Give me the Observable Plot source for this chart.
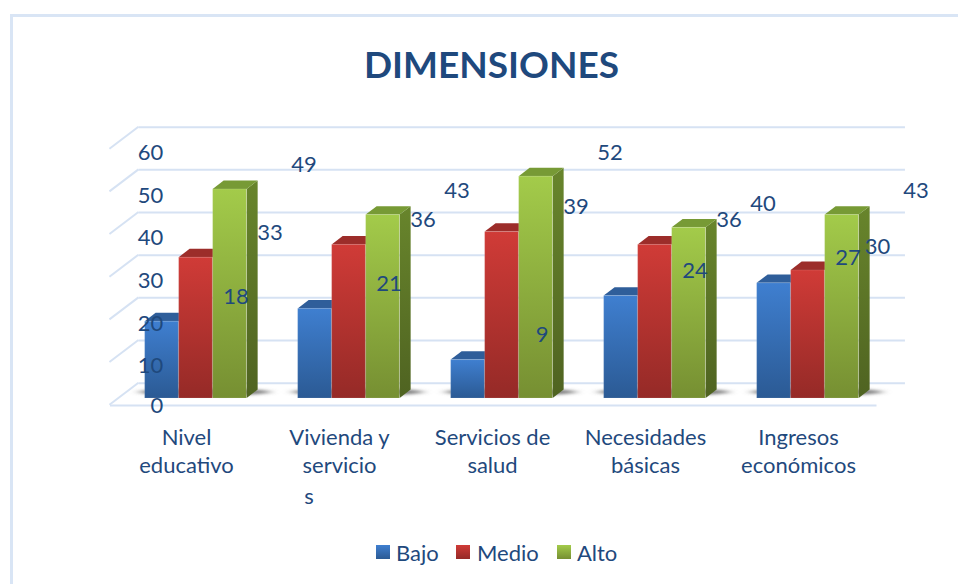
<!DOCTYPE html>
<html>
<head>
<meta charset="utf-8">
<script src="https://cdn.jsdelivr.net/npm/d3@7"></script>
<script src="https://cdn.jsdelivr.net/npm/@observablehq/plot@0.6"></script>
<style>
html,body{margin:0;padding:0;background:#fff;width:958px;height:584px;overflow:hidden;font-family:Lato,sans-serif;color:#1f497d}
#frame{position:absolute;left:10px;top:14px;width:960px;height:600px;border:3px solid #d9e5f5;box-sizing:border-box}
#title{position:absolute;left:0;width:983px;top:38px;text-align:center;font:bold 37px/52px Lato,sans-serif;color:#1f497d}
#chart{position:absolute;left:0;top:110px}
#legend{position:absolute;top:538px;left:376px;height:30px;font:22px/30px Lato,sans-serif}
#legend span{position:absolute;top:0;white-space:nowrap}
#legend i{position:absolute;top:7px;width:14px;height:14px}
</style>
</head>
<body>
<div id="frame"></div>
<div id="title">DIMENSIONES</div>
<div id="chart"></div>
<div id="legend"></div>
<script>
const categories = ["Nivel\neducativo", "Vivienda y\nservicio\ns", "Servicios de\nsalud", "Necesidades\nbásicas", "Ingresos\neconómicos"];
const seriesNames = ["Bajo", "Medio", "Alto"];
const bajo = [18, 21, 9, 24, 27];
const medio = [33, 36, 39, 36, 30];
const alto = [49, 43, 52, 40, 43];
const yTicks = [0, 10, 20, 30, 40, 50, 60];

const ink = "#1f497d";
const gridColor = "#d6e2f3";
const fontFamily = "Lato, sans-serif";
const palette = {
  Bajo: {id: "gBajo", hi: "#3f7fd0", lo: "#2b5a94", top: "#2f5e9a", side: ["#2f5e9a", "#244a78"]},
  Medio: {id: "gMedio", hi: "#d03b37", lo: "#952a27", top: "#9c2d2a", side: ["#9c2d2a", "#7a2220"]},
  Alto: {id: "gAlto", hi: "#a3cb4a", lo: "#768f32", top: "#779a35", side: ["#68852c", "#4f6321"]}
};
const barW = 34, depthX = 11, depthY = 8.4, band = 153.3;
const wallX = 29, wallY = 22;
const backX = 20.1, backY = 15.3;

const table = s => categories.map((c, i) => ({c, v: {Bajo: bajo, Medio: medio, Alto: alto}[s][i]}));
const NS = "http://www.w3.org/2000/svg";
const el = (name, attrs) => {
  const n = document.createElementNS(NS, name);
  for (const k in attrs) n.setAttribute(k, attrs[k]);
  return n;
};

function defsMark() {
  const d = el("defs", {});
  for (const s of seriesNames) {
    const p = palette[s];
    const g = el("linearGradient", {id: p.id, x1: 0, y1: 0, x2: 0, y2: 1});
    g.append(el("stop", {offset: "0%", "stop-color": p.hi}), el("stop", {offset: "100%", "stop-color": p.lo}));
    d.append(g);
    const h = el("linearGradient", {id: p.id + "Side", x1: 0, y1: 0, x2: 0, y2: 1});
    h.append(el("stop", {offset: "0%", "stop-color": p.side[0]}), el("stop", {offset: "100%", "stop-color": p.side[1]}));
    d.append(h);
  }
  const f = el("filter", {id: "soft", x: "-20%", y: "-200%", width: "140%", height: "500%"});
  f.append(el("feGaussianBlur", {stdDeviation: "5 1.6"}));
  d.append(f);
  return d;
}

// Walls and floor edges that follow the y scale
function wallMark(index, scales, values, dims) {
  const g = el("g", {stroke: gridColor, "stroke-width": 2, fill: "none"});
  const x0 = dims.marginLeft;
  for (const t of yTicks) {
    const y = scales.y(t);
    g.append(el("line", {x1: x0 + backX, y1: y - backY, x2: x0 + backX - wallX, y2: y - backY + wallY}));
  }
  return g;
}

// Soft ground shadow under each group of bars
function shadowMark(index, scales) {
  const g = el("g", {fill: "#666", "fill-opacity": 0.85, filter: "url(#soft)"});
  for (const c of categories) {
    const cx = scales.x(c) + band / 2;
    g.append(el("ellipse", {cx: cx + 9, cy: scales.y(0) - 6, rx: 66, ry: 3.5}));
  }
  return g;
}

// Top and right-hand faces, hanging off the front of each bar
const facesMark = (s, shift) => (index, scales) => {
  const g = el("g", {});
  const p = palette[s];
  for (const d of table(s)) {
    const x = scales.x(d.c) + band / 2 + shift - barW / 2;
    const yt = scales.y(d.v), y0 = scales.y(0);
    const r = x + barW;
    g.append(el("polygon", {fill: `url(#${p.id}Side)`, points: `${r},${yt} ${r + depthX},${yt - depthY} ${r + depthX},${y0 - depthY} ${r},${y0}`}));
    g.append(el("polygon", {fill: p.top, points: `${x},${yt} ${r},${yt} ${r + depthX},${yt - depthY} ${x + depthX},${yt - depthY}`}));
  }
  return g;
};

const inset = (band - barW) / 2;
const barMarks = seriesNames.flatMap((s, i) => {
  const shift = (i - 1) * barW;
  return [
    facesMark(s, shift),
    Plot.barY(table(s), {x: "c", y: "v", dx: shift, insetLeft: inset, insetRight: inset,
      fill: `url(#${palette[s].id})`, stroke: "#ffffff", strokeOpacity: 0.12, strokeWidth: 1})
  ];
});

const labelStyle = {fill: ink, fontSize: 22, fontFamily, textAnchor: "middle", lineAnchor: "middle"};
const labelMarks = seriesNames.flatMap((s, i) => {
  const dx = (i - 1) * barW + 74;
  if (s === "Alto") return [Plot.text(table(s), {x: "c", y: "v", text: "v", dx, dy: -24, ...labelStyle})];
  if (s !== "Medio") return [Plot.text(table(s), {x: "c", y: "v", text: "v", dx, dy: -25, ...labelStyle})];
  return [
    Plot.text(table(s).slice(0, 4), {x: "c", y: "v", text: "v", dx, dy: -25, ...labelStyle}),
    Plot.text(table(s).slice(4), {x: "c", y: "v", text: "v", dx: dx - 4.5, dy: -24, ...labelStyle})
  ];
});

const axisFont = {fontSize: 22, fontFamily, fill: ink};

const plot = Plot.plot({
  width: 958,
  height: 410,
  marginLeft: 118.35,
  marginRight: 73.15,
  marginTop: 32,
  marginBottom: 122,
  style: {background: "transparent", overflow: "visible"},
  x: {domain: categories, padding: 0},
  y: {domain: [0, 60]},
  marks: [
    defsMark,
    Plot.ruleY(yTicks, {dx: backX, dy: -backY, stroke: gridColor, strokeWidth: 2}),
    wallMark,
    Plot.ruleY([0], {dx: -8.35, dy: 7, stroke: gridColor, strokeWidth: 2}),
    shadowMark,
    ...barMarks,
    Plot.axisX({anchor: "bottom", label: null, tickSize: 0, tickPadding: 27, dx: -9.5, lineHeight: 1.27, lineAnchor: "top",
      tickFormat: d => d.split("\n").slice(0, 2).join("\n"), ...axisFont}),
    // the stray third line of the wrapped label sits left of its centre
    Plot.text(categories.filter(d => d.split("\n").length > 2), {x: d => d, y: () => 0, text: d => d.split("\n")[2], dx: -40, dy: 98, ...axisFont}),
    Plot.axisY({anchor: "left", label: null, ticks: yTicks.slice(1), tickSize: 0, tickPadding: 0, dx: 44.5, dy: 10.5, ...axisFont}),
    Plot.axisY({anchor: "left", label: null, ticks: yTicks.slice(0, 1), tickSize: 0, tickPadding: 0, dx: 44.5, dy: 7, ...axisFont}),
    ...labelMarks
  ]
});
document.getElementById("chart").append(plot);

// Legend
const legendSpots = {Bajo: [0, 20], Medio: [80, 101], Alto: [181, 201]};
const legend = document.getElementById("legend");
for (const s of seriesNames) {
  const [a, b] = legendSpots[s];
  const i = document.createElement("i");
  i.style.left = a + "px";
  i.style.background = `linear-gradient(${palette[s].hi},${palette[s].lo})`;
  const t = document.createElement("span");
  t.style.left = b + "px";
  t.textContent = s;
  legend.append(i, t);
}
</script>
</body>
</html>
